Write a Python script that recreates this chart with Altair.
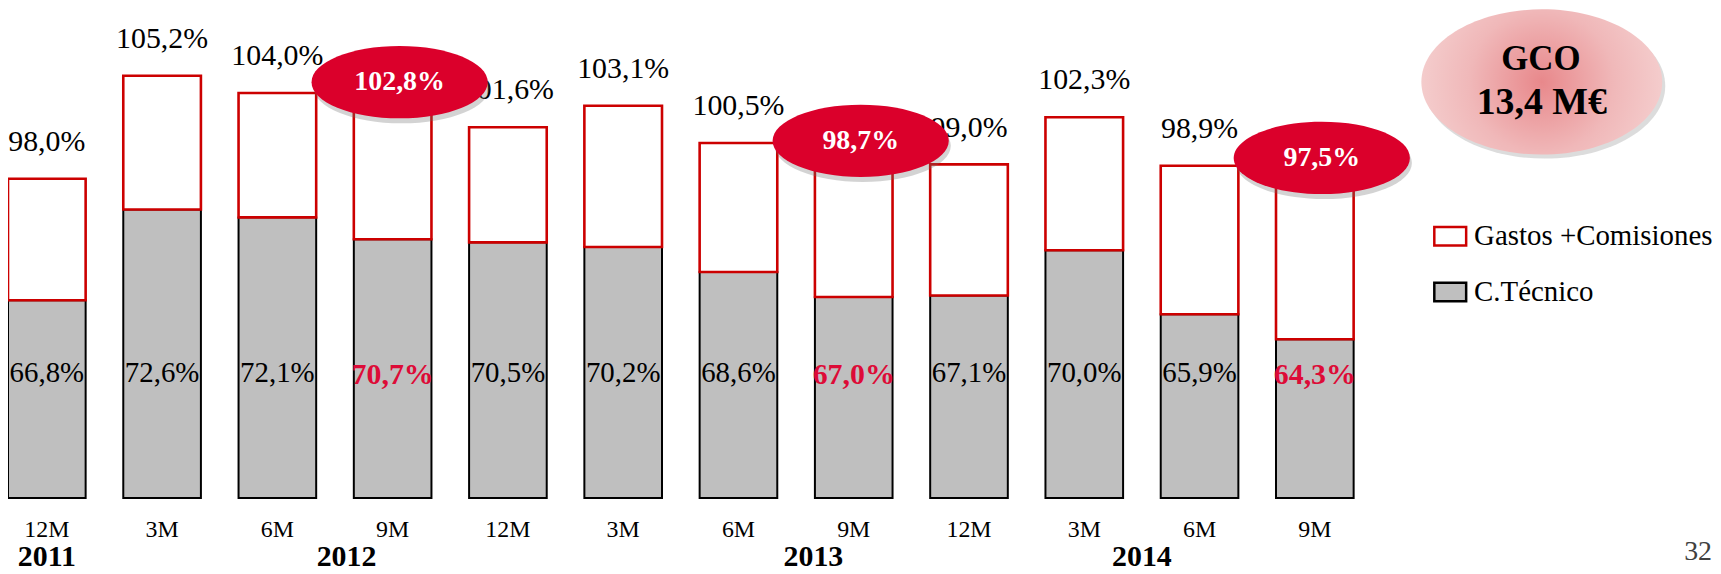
import json
import altair as alt
import pandas as pd

# ---------------- data ----------------
anios = ["2011", "2012", "2012", "2012", "2012", "2013", "2013", "2013", "2013", "2014", "2014", "2014"]
periodos = ["12M", "3M", "6M", "9M", "12M", "3M", "6M", "9M", "12M", "3M", "6M", "9M"]
tecnico = [66.8, 72.6, 72.1, 70.7, 70.5, 70.2, 68.6, 67.0, 67.1, 70.0, 65.9, 64.3]
combinado = [98.0, 105.2, 104.0, 102.8, 101.6, 103.1, 100.5, 98.7, 99.0, 102.3, 98.9, 97.5]
serie_gastos = "Gastos +Comisiones"
serie_tecnico = "C.Técnico"
year_labels = ["2011", "2012", "2013", "2014"]
year_ticks = [0, 2.6, 6.65, 9.5]
gco_title = "GCO"
gco_value = "13,4 M€"
page_number = "32"


def pct(v):
    return f"{v:.1f}".replace(".", ",") + "%"


df = pd.DataFrame({"idx": list(range(len(periodos))), "anio": anios, "periodo": periodos,
                   "tecnico": tecnico, "combinado": combinado})
df["lbl_tec"] = df["tecnico"].map(pct)
df["lbl_comb"] = df["combinado"].map(pct)
df["destacado"] = df["periodo"] == "9M"

df_tec = df.assign(serie=serie_tecnico)
df_gas = df.assign(serie=serie_gastos)
df_years = pd.DataFrame({"pos": year_ticks, "anio": year_labels})

# ---------------- style ----------------
FONT = "Liberation Serif"
RED_LINE = "#CC0000"
RED_FILL = "#DB002B"
RED_TXT = "#DD0B37"
GRAY = "#BFBFBF"

W, H = 1705, 491
AXIS_FLOOR = 54.14  # broken axis: bars start here
x_scale = alt.Scale(domain=[-0.2936, 14.342], nice=False, zero=False)
# piecewise (broken) value axis as in the original slide
y_scale = alt.Scale(domain=[AXIS_FLOOR, 73, 97, 106], range=[H, 194.9, 184.5, 55.3],
                    nice=False, zero=False)

ELLIPSE = ("M-1,0 C-1,-0.2265 -0.5523,-0.41 0,-0.41 C0.5523,-0.41 1,-0.2265 1,0 "
           "C1,0.2265 0.5523,0.41 0,0.41 C-0.5523,0.41 -1,0.2265 -1,0 Z")
BUBBLE = ("M-1,0 C-1,-0.333 -0.5523,-0.603 0,-0.603 C0.5523,-0.603 1,-0.333 1,0 "
          "C1,0.333 0.5523,0.603 0,0.603 C-0.5523,0.603 -1,0.333 -1,0 Z")
RECT = "M-1.2,-0.7 L1.2,-0.7 L1.2,0.7 L-1.2,0.7 Z"

legend = alt.Legend(orient="none", legendX=1434, legendY=213, title=None,
                    symbolType=RECT, symbolSize=711, symbolStrokeWidth=2.5, symbolOpacity=1,
                    labelFont=FONT, labelFontSize=29, labelColor="black", labelOffset=9,
                    labelLimit=0, rowPadding=26, padding=0)
fill_scale = alt.Scale(domain=[serie_gastos, serie_tecnico], range=["white", GRAY])
stroke_scale = alt.Scale(domain=[serie_gastos, serie_tecnico], range=[RED_LINE, "black"])

x_plain = alt.X("idx:Q", scale=x_scale, axis=None)
y_tec = alt.Y("tecnico:Q", scale=y_scale, axis=None)
y_comb = alt.Y("combinado:Q", scale=y_scale, axis=None)

gray_bars = alt.Chart(df_tec).mark_bar(size=78, strokeWidth=2, opacity=1).encode(
    x=x_plain,
    y=y_tec,
    y2=alt.datum(AXIS_FLOOR),
    fill=alt.Fill("serie:N", scale=fill_scale, legend=legend),
    stroke=alt.Stroke("serie:N", scale=stroke_scale, legend=legend),
)

red_bars = alt.Chart(df_gas).mark_bar(size=78, strokeWidth=2.6, opacity=1).encode(
    x=x_plain,
    y=y_tec,
    y2="combinado:Q",
    fill=alt.Fill("serie:N", scale=fill_scale, legend=legend),
    stroke=alt.Stroke("serie:N", scale=stroke_scale, legend=legend),
)

total_labels = alt.Chart(df).transform_filter("!datum.destacado").mark_text(
    font=FONT, fontSize=30, color="black", dy=-37, baseline="middle").encode(
    x=x_plain, y=y_comb, text="lbl_comb:N")

inner_labels = alt.Chart(df).transform_filter("!datum.destacado").mark_text(
    font=FONT, fontSize=29, color="black", baseline="middle").encode(
    x=x_plain, y=alt.value(H - 126), text="lbl_tec:N")

inner_hi = alt.Chart(df).transform_filter("datum.destacado").mark_text(
    font=FONT, fontSize=30, fontWeight="bold", color=RED_TXT, baseline="middle").encode(
    x=x_plain, y=alt.value(H - 124), text="lbl_tec:N")

ell_shadow = alt.Chart(df).transform_filter("datum.destacado").mark_point(
    shape=ELLIPSE, size=177 ** 2, filled=True, fill="#6E6E6E", opacity=0.3, strokeWidth=0).encode(
    x=x_plain, y=y_comb, xOffset=alt.value(9), yOffset=alt.value(-23))

ellipses = alt.Chart(df).transform_filter("datum.destacado").mark_point(
    shape=ELLIPSE, size=177 ** 2, filled=True, fill=RED_FILL, opacity=1, strokeWidth=0).encode(
    x=x_plain, y=y_comb, xOffset=alt.value(7), yOffset=alt.value(-28))

ell_text = alt.Chart(df).transform_filter("datum.destacado").mark_text(
    font=FONT, fontSize=28, fontWeight="bold", color="white", dx=7, dy=-28, baseline="middle").encode(
    x=x_plain, y=y_comb, text="lbl_comb:N")

period_text = alt.Chart(df).mark_text(
    font=FONT, fontSize=24, color="black", baseline="middle").encode(
    x=x_plain, y=alt.value(H + 32), text="periodo:N")

year_text = alt.Chart(df_years).mark_text(
    font=FONT, fontSize=30, fontWeight="bold", color="black", baseline="middle").encode(
    x=alt.X("pos:Q", scale=x_scale, axis=None), y=alt.value(H + 59), text="anio:N")

gco_df = pd.DataFrame({"t": [gco_title]})
gco_shadow = alt.Chart(gco_df).mark_point(
    shape=BUBBLE, size=242 ** 2, filled=True, fill="#8A8A8A", opacity=0.3, strokeWidth=0).encode(
    x=alt.value(1544), y=alt.value(77))
gco_bubble = alt.Chart(gco_df).mark_point(
    shape=BUBBLE, size=242 ** 2, filled=True, opacity=1, strokeWidth=0,
    fill=alt.RadialGradient(gradient="radial",
                            stops=[alt.GradientStop(color="#E8888B", offset=0),
                                   alt.GradientStop(color="#F0B8B9", offset=0.6),
                                   alt.GradientStop(color="#F4CCCC", offset=1)],
                            x1=0.5, y1=0.5, r1=0, x2=0.5, y2=0.5, r2=0.5)).encode(
    x=alt.value(1541), y=alt.value(73))
gco_t1 = alt.Chart(gco_df).mark_text(font=FONT, fontSize=35, fontWeight="bold", color="black",
                                     baseline="middle").encode(
    x=alt.value(1540), y=alt.value(50), text=alt.value(gco_title))
gco_t2 = alt.Chart(gco_df).mark_text(font=FONT, fontSize=38, fontWeight="bold", color="black",
                                     baseline="middle").encode(
    x=alt.value(1541), y=alt.value(94), text=alt.value(gco_value))
page_txt = alt.Chart(gco_df).mark_text(font=FONT, fontSize=28, color="#404040", align="left",
                                       baseline="middle").encode(
    x=alt.value(1684), y=alt.value(545), text=alt.value(page_number))

chart = alt.layer(
    gray_bars, red_bars, total_labels, inner_labels, inner_hi,
    ell_shadow, ellipses, ell_text, period_text, year_text,
    gco_shadow, gco_bubble, gco_t1, gco_t2, page_txt,
).properties(
    width=W, height=H,
    autosize=alt.AutoSizeParams(type="none"),
    padding={"left": 0, "top": 0, "right": 8, "bottom": 75},
).configure_view(stroke=None).configure_legend(
    labelFont=FONT, labelFontSize=29, labelLimit=0, labelColor="black")

chart.save("out.html", embed_options={"renderer": "svg", "actions": False})
